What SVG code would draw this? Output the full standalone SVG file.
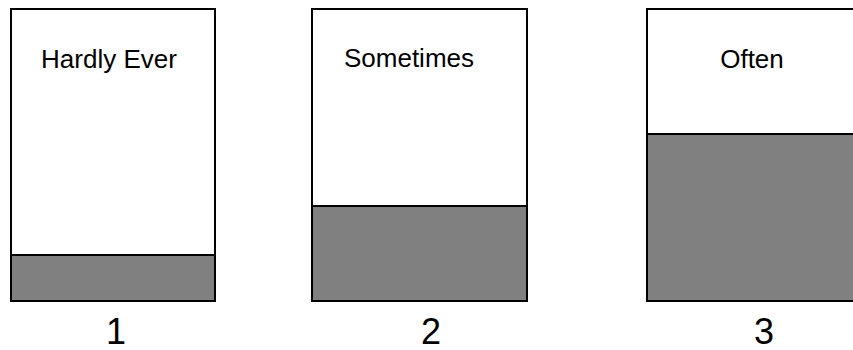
<svg xmlns="http://www.w3.org/2000/svg" width="853" height="350" viewBox="0 0 853 350">
<style>
.box{fill:#fff;stroke:#000;stroke-width:2}
.fill{fill:#808080;stroke:#000;stroke-width:2}
.lbl{font-family:"Liberation Sans",Arial,sans-serif;font-size:26px;fill:#000;text-anchor:middle}
.num{font-family:"Liberation Sans",Arial,sans-serif;font-size:36px;fill:#000;text-anchor:middle}
</style>
<rect width="853" height="350" fill="#fff"/>
<g id="bar1">
<rect class="box" x="11" y="9" width="204" height="292"/>
<rect class="fill" x="11" y="255" width="204" height="46"/>
<text class="lbl" x="109" y="68">Hardly Ever</text>
<text class="num" x="116" y="344">1</text>
</g>
<g id="bar2">
<rect class="box" x="312" y="9" width="215" height="292"/>
<rect class="fill" x="312" y="206" width="215" height="95"/>
<text class="lbl" x="409" y="67">Sometimes</text>
<text class="num" x="431" y="344">2</text>
</g>
<g id="bar3">
<rect class="box" x="647" y="9" width="216" height="292"/>
<rect class="fill" x="647" y="134" width="216" height="167"/>
<text class="lbl" x="752" y="68">Often</text>
<text class="num" x="764" y="344">3</text>
</g>
</svg>
